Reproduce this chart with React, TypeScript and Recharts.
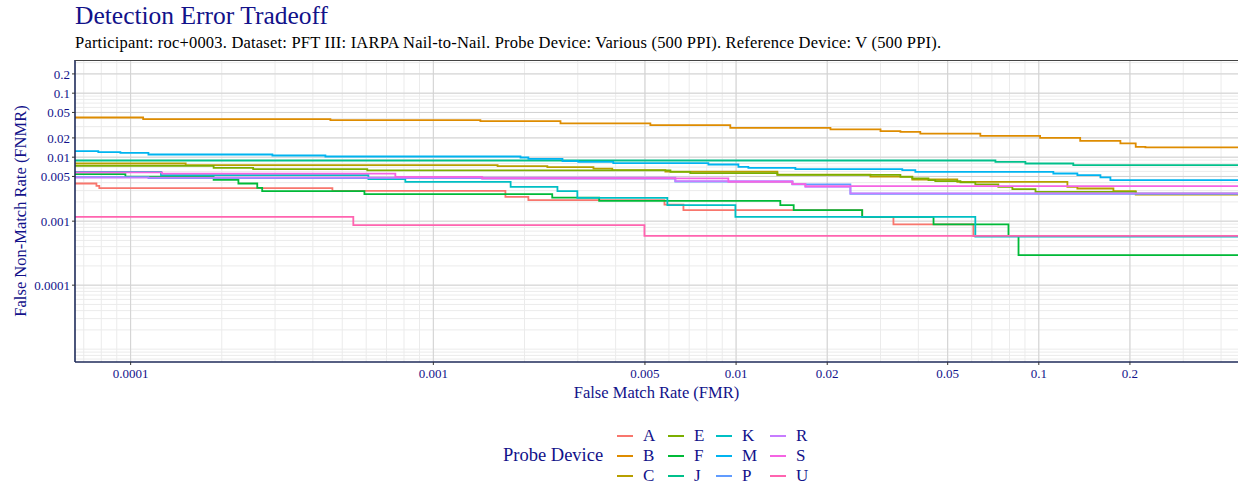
import { LineChart, Line, XAxis, YAxis, CartesianGrid } from 'recharts'

type Pt = [number, number]

const devices = ['A', 'B', 'C', 'E', 'F', 'J', 'K', 'M', 'P', 'R', 'S', 'U']
const colors = ['#F8766D', '#DE8C00', '#B79F00', '#7CAE00', '#00BA38', '#00C08B', '#00BFC4', '#00B4F0', '#619CFF', '#C77CFF', '#F564E3', '#FF64B0']

const fmrTicks = [0.0001, 0.001, 0.005, 0.01, 0.02, 0.05, 0.1, 0.2]
const fnmrTicks = [0.0001, 0.001, 0.005, 0.01, 0.02, 0.05, 0.1, 0.2]
const fmrDomain = [6.55e-5, 0.455]
const fnmrDomain = [6.3e-6, 0.33]

// [FMR, FNMR] steps
const devA: Pt[] = [[6.55e-5, 0.00388], [7.71e-5, 0.00356], [7.88e-5, 0.00328], [4.64e-4, 0.00297], [1.73e-3, 0.0024], [2.06e-3, 0.00213], [5.8e-3, 0.00182], [6.7e-3, 0.00149], [0.0261, 0.00117], [0.0331, 0.000888], [0.0608, 0.000583], [0.455, 0.000583]]
const devB: Pt[] = [[6.55e-5, 0.0417], [1.1e-4, 0.0393], [4.57e-4, 0.038], [1.43e-3, 0.0365], [2.63e-3, 0.0337], [5.21e-3, 0.0316], [9.57e-3, 0.0287], [0.0205, 0.0271], [0.03, 0.0255], [0.0349, 0.0248], [0.0406, 0.0234], [0.0641, 0.0215], [0.101, 0.02], [0.137, 0.018], [0.186, 0.0164], [0.209, 0.0145], [0.225, 0.0142], [0.455, 0.0142]]
const devC: Pt[] = [[6.55e-5, 0.00797], [1.52e-4, 0.0075], [1.63e-3, 0.00723], [2.38e-3, 0.00698], [3.38e-3, 0.00661], [3.9e-3, 0.00627], [5.84e-3, 0.00593], [0.01369, 0.00533], [0.02778, 0.00496], [0.0382, 0.00448], [0.0538, 0.00411], [0.1243, 0.00344], [0.1341, 0.00324], [0.1764, 0.00294], [0.209, 0.00261], [0.455, 0.00261]]
const devE: Pt[] = [[6.55e-5, 0.00731], [1.88e-4, 0.0068], [2.54e-4, 0.00649], [6.05e-4, 0.0062], [6.07e-3, 0.00589], [7.06e-3, 0.00562], [0.01369, 0.00529], [0.0349, 0.00492], [0.0382, 0.00465], [0.0432, 0.00437], [0.0455, 0.00422], [0.0551, 0.00403], [0.0617, 0.00375], [0.0735, 0.00344], [0.0818, 0.00316], [0.0975, 0.00287], [0.209, 0.00269], [0.455, 0.00269]]
const devF: Pt[] = [[6.55e-5, 0.00542], [9.61e-5, 0.00496], [1.88e-4, 0.00442], [2.27e-4, 0.00388], [2.62e-4, 0.00332], [2.72e-4, 0.00294], [5.92e-4, 0.00264], [2.47e-3, 0.00234], [3.53e-3, 0.00208], [0.014, 0.00178], [0.0155, 0.00149], [0.0261, 0.00117], [0.0449, 0.000888], [0.0794, 0.000583], [0.0857, 0.000294], [0.455, 0.000294]]
const devJ: Pt[] = [[6.55e-5, 0.00888], [0.0719, 0.00845], [0.0903, 0.00797], [0.13, 0.0075], [0.455, 0.0075]]
const devK: Pt[] = [[6.55e-5, 0.00589], [1.26e-4, 0.00523], [6.1e-4, 0.00453], [8.08e-4, 0.00411], [1.8e-3, 0.00344], [2.57e-3, 0.00294], [2.99e-3, 0.00231], [5.93e-3, 0.00178], [9.95e-3, 0.00117], [0.0617, 0.000573], [0.455, 0.000573]]
const devM: Pt[] = [[6.55e-5, 0.0124], [7.82e-5, 0.012], [9.25e-5, 0.01167], [1.145e-4, 0.01102], [2.94e-4, 0.01063], [4.4e-4, 0.01025], [1.94e-3, 0.00989], [2.06e-3, 0.00941], [2.67e-3, 0.00866], [3.01e-3, 0.00845], [3.93e-3, 0.00806], [8.1e-3, 0.00769], [0.01018, 0.00705], [0.01098, 0.0068], [0.0157, 0.00649], [0.0354, 0.00627], [0.0391, 0.00589], [0.1117, 0.00556], [0.1341, 0.00523], [0.1598, 0.00482], [0.1724, 0.00437], [0.455, 0.00437]]
const devP: Pt[] = [[6.55e-5, 0.00487], [1.145e-4, 0.0047], [1.45e-3, 0.00462], [6.3e-3, 0.00415], [0.01535, 0.00375], [0.02386, 0.00268], [0.455, 0.00268]]
const devR: Pt[] = [[6.55e-5, 0.00478], [6.3e-3, 0.00422], [0.01535, 0.00379], [0.01694, 0.00344], [0.02386, 0.00271], [0.455, 0.00271]]
const devS: Pt[] = [[6.55e-5, 0.00577], [1.27e-4, 0.00552], [7.49e-4, 0.00492], [1.45e-3, 0.00465], [9.43e-3, 0.00411], [0.01535, 0.00379], [0.01694, 0.00352], [0.455, 0.00352]]
const devU: Pt[] = [[6.55e-5, 0.00117], [5.44e-4, 0.000866], [4.98e-3, 0.000589], [0.455, 0.000589]]

const curves = [devA, devB, devC, devE, devF, devJ, devK, devM, devP, devR, devS, devU]

// minor grid at k * 10^n
const minor = (lo: number, hi: number) => {
  const out: number[] = []
  for (let e = -6; e <= 0; e++) {
    for (let k = 1; k <= 9; k++) {
      const v = k * Math.pow(10, e)
      if (v > lo && v < hi) out.push(v)
    }
  }
  return out
}

const NAVY = '#12128a'

export default function App() {
  return (
    <div style={{ position: 'relative', width: 1238, height: 492, fontFamily: "'Liberation Serif', serif", background: '#fff' }}>
      <style>{'body{margin:0}'}</style>
      <div style={{ position: 'absolute', left: 75, top: 1, fontSize: 25.5, color: NAVY, whiteSpace: 'nowrap' }}>
        Detection Error Tradeoff
      </div>
      <div style={{ position: 'absolute', left: 75, top: 33, fontSize: 16.5, letterSpacing: 0.2, color: '#000', whiteSpace: 'nowrap' }}>
        Participant: roc+0003. Dataset: PFT III: IARPA Nail-to-Nail. Probe Device: Various (500 PPI). Reference Device: V (500 PPI).
      </div>
      <div style={{ position: 'absolute', left: 0, top: 0 }}>
        <LineChart width={1238} height={410} margin={{ top: 60, right: 0, left: 0, bottom: 0 }}>
          <CartesianGrid stroke="#ebebeb" strokeWidth={1} horizontalValues={minor(fnmrDomain[0], fnmrDomain[1])} verticalValues={minor(fmrDomain[0], fmrDomain[1])} />
          <CartesianGrid stroke="#d2d2d2" strokeWidth={1} horizontalValues={fnmrTicks} verticalValues={fmrTicks} />
          <XAxis
            type="number"
            dataKey="0"
            scale="log"
            domain={fmrDomain}
            allowDataOverflow
            ticks={fmrTicks}
            interval={0}
            tickFormatter={(v: number) => String(v)}
            tick={{ fontSize: 13, fill: NAVY }}
            tickSize={3}
            tickMargin={4}
            axisLine={{ stroke: '#1f2b5a', strokeWidth: 1.6 }}
            tickLine={{ stroke: '#333' }}
            height={48}
            label={{ value: 'False Match Rate (FMR)', position: 'insideBottom', offset: 12, fill: NAVY, fontSize: 16.5 }}
          />
          <YAxis
            type="number"
            dataKey="1"
            scale="log"
            domain={fnmrDomain}
            allowDataOverflow
            ticks={fnmrTicks}
            interval={0}
            tickFormatter={(v: number) => String(v)}
            tick={{ fontSize: 13, fill: NAVY }}
            tickSize={3}
            tickMargin={2}
            axisLine={{ stroke: '#1f2b5a', strokeWidth: 1.6 }}
            tickLine={{ stroke: '#333' }}
            width={75}
            label={{ value: 'False Non-Match Rate (FNMR)', angle: -90, position: 'insideLeft', offset: 20, fill: NAVY, fontSize: 16.5, style: { textAnchor: 'middle' } }}
          />
          {curves.map((d, i) => (
            <Line
              key={devices[i]}
              data={d}
              dataKey="1"
              type="stepAfter"
              stroke={colors[i]}
              strokeWidth={1.8}
              dot={false}
              activeDot={false}
              isAnimationActive={false}
            />
          ))}
        </LineChart>
      </div>
      <div style={{ position: 'absolute', left: 75, top: 60, width: 1163, height: 302, borderTop: '1px solid #444', boxSizing: 'border-box', pointerEvents: 'none' }} />
      <div style={{ position: 'absolute', left: 503, top: 445, fontSize: 18.5, color: NAVY, whiteSpace: 'nowrap' }}>Probe Device</div>
      {devices.map((name, i) => {
        const col = Math.floor(i / 3)
        const row = i % 3
        const left = [617, 668, 716, 770][col]
        const top = 436 + row * 20
        return (
          <div key={name} style={{ position: 'absolute', left, top: top - 10, height: 20, display: 'flex', alignItems: 'center', whiteSpace: 'nowrap' }}>
            <span style={{ display: 'inline-block', width: 16, height: 2, background: colors[i] }} />
            <span style={{ marginLeft: 10, fontSize: 17, color: NAVY }}>{name}</span>
          </div>
        )
      })}
    </div>
  )
}
